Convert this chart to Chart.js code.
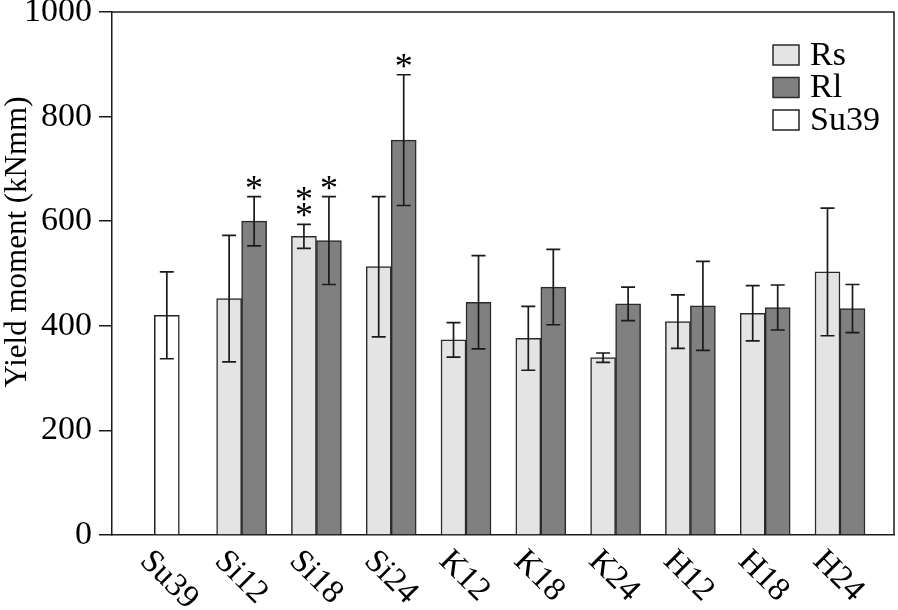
<!DOCTYPE html>
<html>
<head>
<meta charset="utf-8">
<script src="https://cdn.jsdelivr.net/npm/chart.js@4.4.0/dist/chart.umd.min.js"></script>
<style>
  html, body { margin: 0; padding: 0; background: #fff; }
  #wrap { width: 898px; height: 610px; }
</style>
</head>
<body>
<div id="wrap"><canvas id="chart" width="898" height="610"></canvas></div>
<script>
// values (mean and SD, kNmm)
const categories = ["Su39", "Si12", "Si18", "Si24", "K12", "K18", "K24", "H12", "H18", "H24"];
const rsMean = [null, 452, 571, 513, 373, 376, 339, 408, 424, 503];
const rsSd = [null, 121, 23, 134, 33, 61, 9, 51, 53, 122];
const rlMean = [null, 600, 563, 755, 445, 474, 442, 438, 435, 433];
const rlSd = [null, 47, 84, 125, 89, 72, 32, 85, 43, 46];
const su39Mean = [420, null, null, null, null, null, null, null, null, null];
const su39Sd = [83, null, null, null, null, null, null, null, null, null];
const rsStars = [0, 0, 2, 0, 0, 0, 0, 0, 0, 0];
const rlStars = [0, 1, 1, 1, 0, 0, 0, 0, 0, 0];
const yTitle = "Yield moment (kNmm)";

const serif = "'Liberation Serif', 'Times New Roman', serif";
const ink = "#1a1a1a";

function toPoints(values) {
  return categories.map((c, i) => ({ x: i, y: values[i] }));
}

const extras = {
  id: "extras",
  afterDatasetsDraw(chart) {
    const ctx = chart.ctx;
    const y = chart.scales.y;
    const sets = [[rsMean, rsSd, rsStars], [rlMean, rlSd, rlStars], [su39Mean, su39Sd, null]];
    ctx.save();
    ctx.strokeStyle = ink;
    ctx.lineWidth = 1.7;
    ctx.fillStyle = "#000";
    ctx.font = "36px " + serif;
    ctx.textAlign = "center";
    ctx.textBaseline = "alphabetic";
    sets.forEach(([means, sds, stars], d) => {
      const meta = chart.getDatasetMeta(d);
      meta.data.forEach((bar, i) => {
        if (means[i] == null) return;
        const top = y.getPixelForValue(means[i] + sds[i]);
        const bot = y.getPixelForValue(means[i] - sds[i]);
        ctx.beginPath();
        ctx.moveTo(bar.x, top); ctx.lineTo(bar.x, bot);
        ctx.moveTo(bar.x - 7, top); ctx.lineTo(bar.x + 7, top);
        ctx.moveTo(bar.x - 7, bot); ctx.lineTo(bar.x + 7, bot);
        ctx.stroke();
        if (stars) {
          for (let k = 0; k < stars[i]; k++) {
            ctx.fillText("*", bar.x, top + 3 - k * 16);
          }
        }
      });
    });
    ctx.restore();
  },
  afterDraw(chart) {
    const ctx = chart.ctx;
    const area = chart.chartArea;
    const x = chart.scales.x;
    ctx.save();
    // frame top + right
    ctx.strokeStyle = ink;
    ctx.lineWidth = 1.5;
    ctx.beginPath();
    ctx.moveTo(area.left, area.top);
    ctx.lineTo(area.right, area.top);
    ctx.lineTo(area.right, area.bottom);
    ctx.stroke();
    // rotated category labels
    ctx.fillStyle = "#000";
    ctx.font = "33px " + serif;
    ctx.textAlign = "left";
    ctx.textBaseline = "middle";
    categories.forEach((c, i) => {
      const px = x.getPixelForValue(i);
      ctx.save();
      ctx.translate(px - 22, area.bottom + 21);
      ctx.rotate(Math.PI / 4);
      ctx.fillText(c, 0, 0);
      ctx.restore();
    });
    // y title
    ctx.save();
    ctx.font = "31px " + serif;
    ctx.translate(18, 242);
    ctx.rotate(-Math.PI / 2);
    ctx.textAlign = "center";
    ctx.fillText(yTitle, 0, 0);
    ctx.restore();
    // legend
    ctx.font = "34px " + serif;
    chart.data.datasets.forEach((ds, d) => {
      const cy = 55 + d * 32.5;
      ctx.fillStyle = ds.backgroundColor;
      ctx.fillRect(773, cy - 10, 26, 20);
      ctx.strokeStyle = ds.borderColor;
      ctx.lineWidth = 1.5;
      ctx.strokeRect(773, cy - 10, 26, 20);
      ctx.fillStyle = "#000";
      ctx.textAlign = "left";
      ctx.fillText(ds.label, 810, cy + 1);
    });
    ctx.restore();
  }
};

new Chart(document.getElementById("chart"), {
  type: "bar",
  data: {
    datasets: [
      { label: "Rs", data: toPoints(rsMean), backgroundColor: "#e4e4e4", borderColor: "#2a2a2a", borderWidth: 1.5, barThickness: 25 },
      { label: "Rl", data: toPoints(rlMean), backgroundColor: "#808080", borderColor: "#2a2a2a", borderWidth: 1.5, barThickness: 25 },
      { label: "Su39", data: toPoints(su39Mean), backgroundColor: "#ffffff", borderColor: "#222", borderWidth: 1.5, barThickness: 25, grouped: false }
    ]
  },
  options: {
    responsive: false,
    animation: false,
    layout: { autoPadding: false, padding: { left: 0, right: 4, top: 12, bottom: 0 } },
    plugins: { legend: { display: false }, tooltip: { enabled: false } },
    scales: {
      x: {
        type: "linear",
        offset: false,
        min: -0.733,
        max: 9.722,
        ticks: { display: false },
        grid: { display: false, offset: false },
        border: { display: true, color: ink, width: 1.5 },
        afterFit: (scale) => {
          scale.height = 75;
          scale.paddingLeft = 0;
          scale.paddingRight = 0;
        }
      },
      y: {
        min: 0,
        max: 1000,
        ticks: {
          stepSize: 200,
          color: "#000",
          padding: 7,
          font: { family: serif, size: 34 },
          callback: (v) => String(v)
        },
        grid: { drawOnChartArea: false, tickLength: 13, color: ink, lineWidth: 1.5 },
        border: { display: true, color: ink, width: 1.5 },
        afterFit: (scale) => {
          scale.width = 112;
          scale.paddingTop = 0;
          scale.paddingBottom = 0;
        }
      }
    }
  },
  plugins: [extras]
});
</script>
</body>
</html>
